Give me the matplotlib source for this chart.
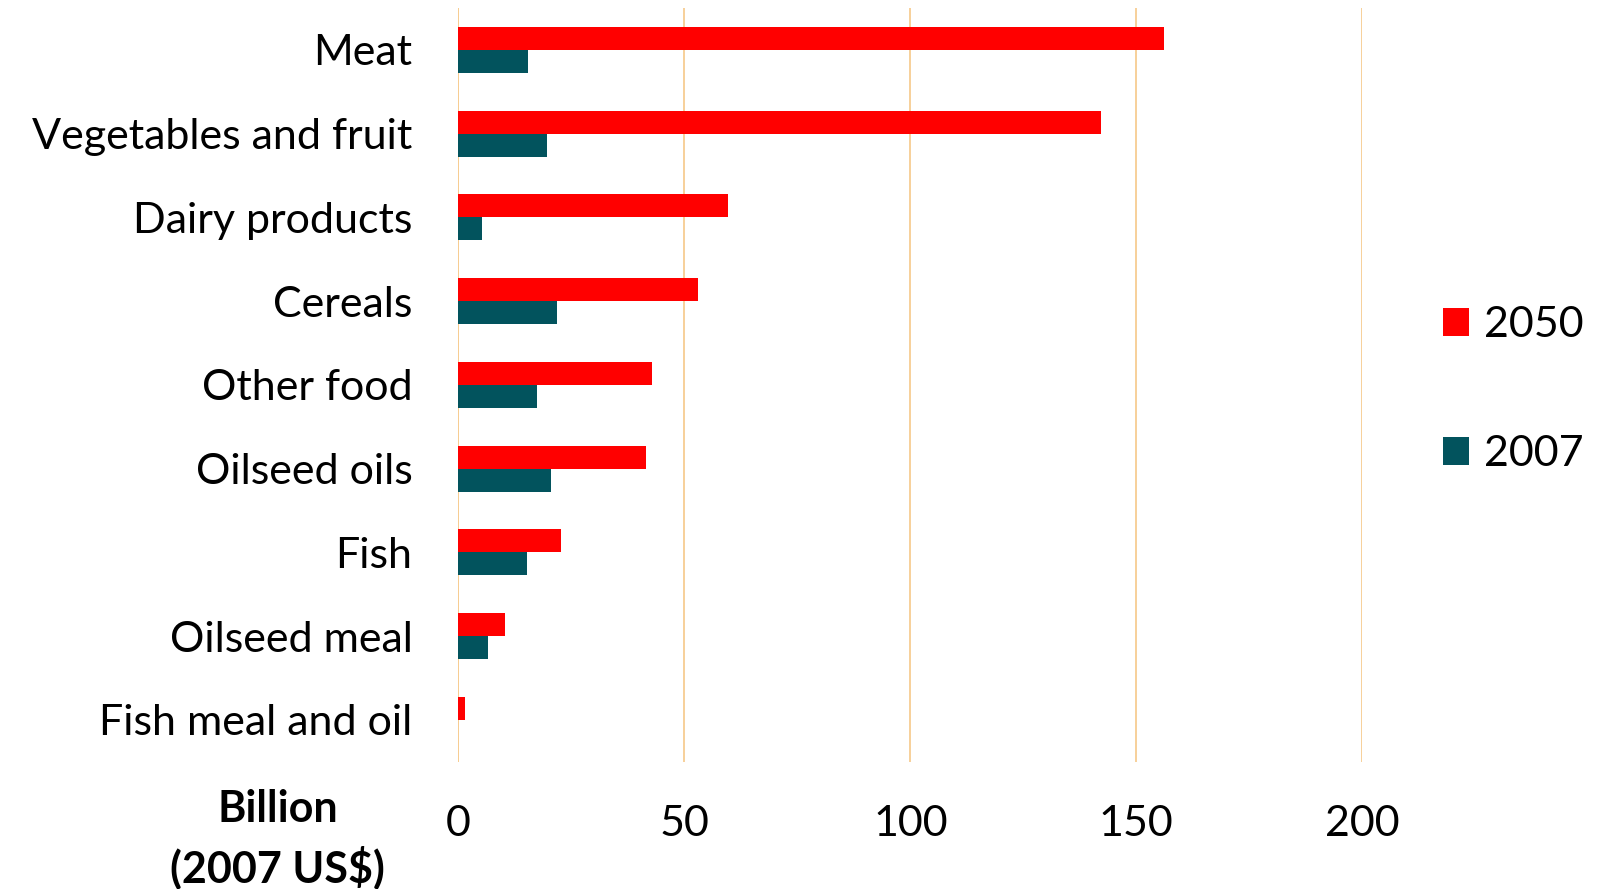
import matplotlib.pyplot as plt
import numpy as np

categories = ["Meat", "Vegetables and fruit", "Dairy products", "Cereals",
              "Other food", "Oilseed oils", "Fish", "Oilseed meal",
              "Fish meal and oil"]
values_2050 = [156.1, 142.2, 59.6, 53.1, 42.9, 41.5, 22.8, 10.4, 1.5]
values_2007 = [15.4, 19.7, 5.3, 21.9, 17.4, 20.6, 15.2, 6.6, 0.0]
xticks = [0, 50, 100, 150, 200]

RED = "#FF0000"
TEAL = "#02535D"
GRID = "#F7CD92"


def main():
    plt.rcParams["font.family"] = ["Lato", "DejaVu Sans"]

    fig = plt.figure(figsize=(15.97, 8.89), dpi=100)
    ax = fig.add_axes([0.287, 0.143, 0.566, 0.848])

    y = np.arange(len(categories))
    h = 0.275
    ax.barh(y - h / 2, values_2050, height=h, color=RED, label="2050", zorder=3)
    ax.barh(y + h / 2, values_2007, height=h, color=TEAL, label="2007", zorder=3)

    ax.set_ylim(len(categories) - 0.5, -0.5)
    ax.set_xlim(0, 200)
    ax.set_xticks(xticks)
    ax.set_yticks(y)
    ax.set_yticklabels(categories)

    for s in ax.spines.values():
        s.set_visible(False)
    ax.grid(axis="x", color=GRID, linewidth=1.3, zorder=0)
    ax.axvline(0, color=GRID, linewidth=1.3, zorder=1)
    ax.tick_params(axis="x", length=0, pad=31, labelsize=31)
    ax.tick_params(axis="y", length=0, pad=33, labelsize=31)

    fig.text(0.174, 0.056, "Billion\n(2007 US$)", ha="center", va="center",
             fontsize=31, fontweight="bold", linespacing=1.42)

    ax.legend(loc="center left", bbox_to_anchor=(1.089, 0.494), frameon=False,
              fontsize=31, handlelength=0.62, handleheight=0.62,
              handletextpad=0.35, labelspacing=2.12, borderpad=0,
              borderaxespad=0)

    fig.savefig("out.png", dpi=100)


if __name__ == "__main__":
    main()
